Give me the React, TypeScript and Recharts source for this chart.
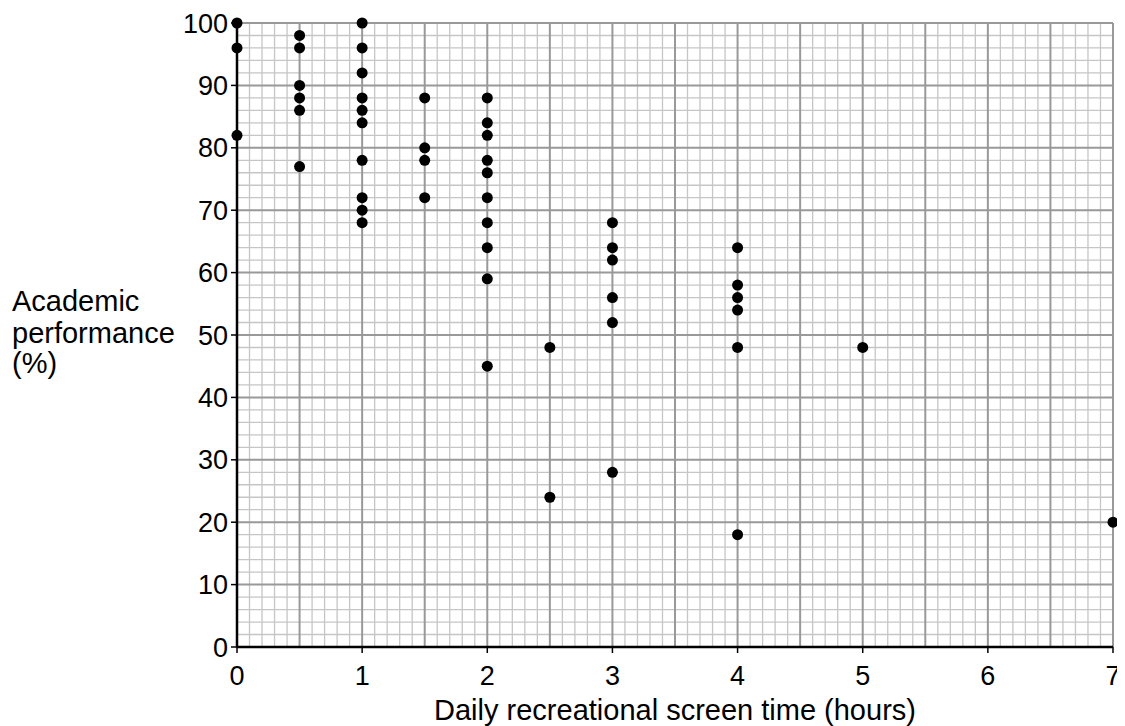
import React from 'react';
import {
  ScatterChart,
  Scatter,
  XAxis,
  YAxis,
  ReferenceLine,
  Label,
} from 'recharts';

// Tick labels
const xTicks = [0, 1, 2, 3, 4, 5, 6, 7];
const yTicks = [0, 10, 20, 30, 40, 50, 60, 70, 80, 90, 100];

// Data: screen time columns and the academic scores plotted at each
const screenHours = [0, 0.5, 1, 1.5, 2, 2.5, 3, 4, 5, 7];
const scoresAtHour = [
  [100, 96, 82],
  [98, 96, 90, 88, 86, 77],
  [100, 96, 92, 88, 86, 84, 78, 72, 70, 68],
  [88, 80, 78, 72],
  [88, 84, 82, 78, 76, 72, 68, 64, 59, 45],
  [48, 24],
  [68, 64, 62, 56, 52, 28],
  [64, 58, 56, 54, 48, 18],
  [48],
  [20],
];

const xLabel = 'Daily recreational screen time (hours)';
const yLabelLines = ['Academic', 'performance', '(%)'];

const points = screenHours.flatMap((h, i) =>
  scoresAtHour[i].map((s) => ({ x: h, y: s }))
);

// Graph-paper grid lines (0.1 h and 2 % minor, 0.5 h and 10 % major)
const majorX: number[] = [];
const minorX: number[] = [];
for (let k = 1; k <= 70; k++) {
  const v = k / 10;
  if (k % 5 === 0) majorX.push(v);
  else minorX.push(v);
}
const majorY: number[] = [];
const minorY: number[] = [];
for (let k = 1; k <= 50; k++) {
  const v = k * 2;
  if (k % 5 === 0) majorY.push(v);
  else minorY.push(v);
}

const FONT = '"Liberation Sans", Arial, Helvetica, sans-serif';
const MINOR = '#c6c6c6';
const MAJOR = '#999999';

const Dot = (props: any) => {
  const { cx, cy } = props;
  if (cx == null || cy == null) return null;
  return <circle cx={cx} cy={cy} r={5.5} fill="#000" />;
};

const YLabelContent = (props: any) => {
  const vb = props.viewBox || { x: 0, y: 15, width: 229, height: 624 };
  const cy = vb.y + vb.height / 2;
  const offsets = [-24, 8, 38];
  return (
    <text x={4} fill="#000" fontSize={29} fontFamily={FONT}>
      {yLabelLines.map((l, i) => (
        <tspan key={l} x={4} y={cy + offsets[i]}>
          {l}
        </tspan>
      ))}
    </text>
  );
};

export default function App() {
  return (
    <div style={{ width: 1117, height: 718, fontFamily: FONT, background: '#fff' }}>
      <ScatterChart
        width={1117}
        height={718}
        margin={{ top: 15, right: 12, bottom: 0, left: 0 }}
      >
        {minorX.map((v) => (
          <ReferenceLine key={'mx' + v} x={v} stroke={MINOR} strokeWidth={1.3} />
        ))}
        {minorY.map((v) => (
          <ReferenceLine key={'my' + v} y={v} stroke={MINOR} strokeWidth={1.3} />
        ))}
        {majorX.map((v) => (
          <ReferenceLine key={'Mx' + v} x={v} stroke={MAJOR} strokeWidth={2} />
        ))}
        {majorY.map((v) => (
          <ReferenceLine key={'My' + v} y={v} stroke={MAJOR} strokeWidth={2} />
        ))}
        <XAxis
          type="number"
          dataKey="x"
          domain={[0, 7]}
          ticks={xTicks}
          interval={0}
          height={79}
          tickSize={6}
          tickMargin={13}
          axisLine={{ stroke: '#000', strokeWidth: 2.5 }}
          tickLine={{ stroke: '#000', strokeWidth: 1.5 }}
          tick={{ fill: '#000', fontSize: 27, fontFamily: FONT }}
        >
          <Label
            value={xLabel}
            position="insideBottom"
            offset={6}
            fill="#000"
            fontSize={29}
            fontFamily={FONT}
          />
        </XAxis>
        <YAxis
          type="number"
          dataKey="y"
          domain={[0, 100]}
          ticks={yTicks}
          interval={0}
          width={229}
          tickSize={6}
          tickMargin={3}
          axisLine={{ stroke: '#000', strokeWidth: 2.5 }}
          tickLine={{ stroke: '#000', strokeWidth: 1.5 }}
          tick={{ fill: '#000', fontSize: 27, fontFamily: FONT }}
        >
          <Label content={YLabelContent} />
        </YAxis>
        <Scatter data={points} shape={Dot} isAnimationActive={false} />
      </ScatterChart>
    </div>
  );
}
